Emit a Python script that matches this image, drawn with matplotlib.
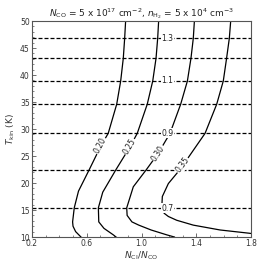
import matplotlib
matplotlib.use("Agg")
import matplotlib.pyplot as plt
import numpy as np

# Solid contours (N_CI/N_CO, T_kin)
c020_x = [0.884, 0.877, 0.867, 0.848, 0.819, 0.757, 0.704, 0.619, 0.540, 0.509, 0.497, 0.500, 0.519, 0.558]
c020_T = [50.0, 46.8, 43.1, 38.9, 34.6, 29.2, 26.9, 22.5, 18.5, 15.4, 12.8, 12.0, 11.0, 10.0]
c025_x = [1.125, 1.118, 1.106, 1.082, 1.042, 0.969, 0.916, 0.814, 0.717, 0.685, 0.688, 0.726, 0.794, 0.814]
c025_T = [50.0, 46.8, 43.1, 38.9, 34.6, 29.2, 26.7, 22.5, 18.3, 15.4, 12.8, 11.6, 10.4, 10.0]
c030_x = [1.386, 1.378, 1.361, 1.335, 1.286, 1.208, 1.122, 1.036, 0.940, 0.892, 0.895, 0.930, 0.980, 1.070, 1.184, 1.240]
c030_T = [50.0, 46.8, 43.1, 38.9, 34.6, 29.2, 25.5, 22.5, 19.3, 15.4, 14.0, 12.8, 12.2, 11.3, 10.4, 10.0]
c035_x = [1.651, 1.641, 1.621, 1.597, 1.549, 1.464, 1.281, 1.196, 1.152, 1.148, 1.165, 1.196, 1.257, 1.378, 1.574, 1.786, 1.800]
c035_T = [50.0, 46.8, 43.1, 38.9, 34.6, 29.2, 22.5, 19.9, 17.5, 15.5, 14.4, 13.8, 13.1, 12.2, 11.3, 10.7, 10.65]
solid_levels = ["0.20", "0.25", "0.30", "0.35"]
solid_label_x = [0.700, 0.916, 1.122, 1.300]
solid_label_T = [26.9, 26.7, 25.5, 23.3]
solid_label_rot = [62, 60, 57, 53]

# Dashed (horizontal) contours
dashed_T = [15.3, 22.5, 29.2, 34.6, 38.9, 43.1, 46.8]
dashed_levels = ["0.7", "0.8", "0.9", "1.0", "1.1", "1.2", "1.3"]
dashed_labeled = ["0.7", "0.9", "1.1", "1.3"]
dashed_label_x = 1.19

xticks = [0.2, 0.6, 1.0, 1.4, 1.8]
yticks = [10, 15, 20, 25, 30, 35, 40, 45, 50]

fig = plt.figure(figsize=(2.66, 2.66), dpi=100)
ax = fig.add_axes([0.120, 0.109, 0.824, 0.812])

for xs, ts in [(c020_x, c020_T), (c025_x, c025_T), (c030_x, c030_T), (c035_x, c035_T)]:
    ax.plot(xs, ts, color="black", lw=0.9, solid_joinstyle="round", zorder=2)

for t, lev in zip(dashed_T, dashed_levels):
    ax.axhline(t, color="black", lw=0.9, ls=(0, (3.2, 1.6)), zorder=2)
    if lev in dashed_labeled:
        ax.text(dashed_label_x, t, lev, fontsize=5.5, ha="center", va="center",
                color="#222222", zorder=3,
                bbox=dict(facecolor="white", edgecolor="none", pad=0.4))

for lev, lx, lt, rot in zip(solid_levels, solid_label_x, solid_label_T, solid_label_rot):
    ax.text(lx, lt, lev, fontsize=5.5, ha="center", va="center", rotation=rot,
            rotation_mode="anchor", color="#222222", zorder=3,
            bbox=dict(facecolor="white", edgecolor="none", pad=0.4))

ax.set_xlim(0.2, 1.8)
ax.set_ylim(10, 50)
ax.set_xticks(xticks)
ax.set_xticklabels([f"{v:.1f}" for v in xticks])
ax.set_yticks(yticks)
ax.set_xticks(np.arange(0.2, 1.81, 0.1), minor=True)
ax.set_yticks(np.arange(10, 51, 1), minor=True)
ax.tick_params(which="both", direction="in", colors="#555555", labelcolor="#333333",
               labelsize=5.5, pad=1.5)
ax.tick_params(which="major", length=3, width=0.6)
ax.tick_params(which="minor", length=1.5, width=0.5)
for s in ax.spines.values():
    s.set_color("#555555")
    s.set_linewidth(0.8)

ax.set_xlabel(r"$N_{\rm CI}/N_{\rm CO}$", fontsize=6.5, labelpad=1, color="#333333")
ax.set_ylabel(r"$T_{\rm kin}$ (K)", fontsize=6.5, labelpad=2, color="#333333")
ax.set_title(r"$N_{\rm CO}$ = 5 x 10$^{17}$ cm$^{-2}$, $n_{\rm H_2}$ = 5 x 10$^4$ cm$^{-3}$",
             fontsize=6.5, pad=2, color="#222222")

fig.savefig("out.png", dpi=100)
